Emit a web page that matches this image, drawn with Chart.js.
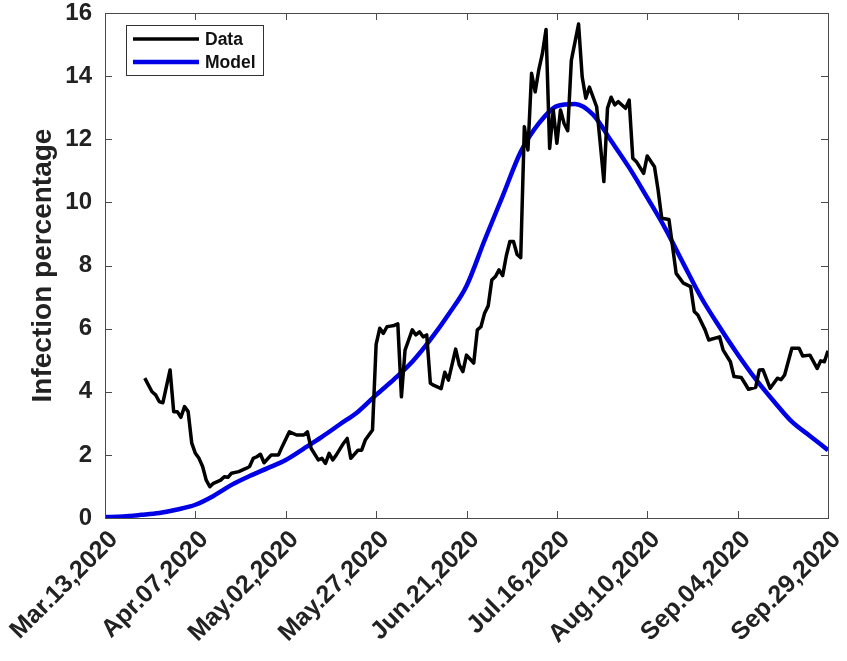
<!DOCTYPE html>
<html>
<head>
<meta charset="utf-8">
<script src="https://cdn.jsdelivr.net/npm/chart.js@4.4.0/dist/chart.umd.min.js"></script>
<style>
  body { margin: 0; background: #fff; }
  canvas { display: block; }
</style>
</head>
<body>
<canvas id="myChart" width="847" height="661"></canvas>
<script>
// x axis: days since Mar 13, 2020
const tickDays = [0, 25, 50, 75, 100, 125, 150, 175, 200]
const tickLabels = ['Mar.13,2020', 'Apr.07,2020', 'May.02,2020', 'May.27,2020', 'Jun.21,2020',
  'Jul.16,2020', 'Aug.10,2020', 'Sep.04,2020', 'Sep.29,2020']

const dataDays = [11, 13, 14, 15, 16, 18, 19, 20, 21, 22, 23, 24, 25, 26, 27, 28, 29, 30, 32, 33,
  34, 35, 37, 39, 40, 41, 42, 43, 44, 46, 48, 49, 51, 53, 55, 56, 57, 59, 60, 61,
  62, 63, 64, 66, 67, 68, 70, 71, 72, 73, 74, 75, 76, 77, 78, 79, 80, 81, 82, 83,
  84, 85, 86, 87, 88, 89, 90, 91, 93, 94, 95, 97, 98, 99, 100, 102, 103, 104, 105, 106,
  107, 108, 109, 110, 111, 112, 113, 114, 115, 116, 117, 118, 119, 120, 121, 122, 123, 124, 125, 126,
  127, 128, 129, 131, 132, 133, 134, 136, 137, 138, 139, 140, 141, 142, 144, 145, 146, 147, 149, 150,
  152, 153, 154, 156, 157, 158, 160, 162, 163, 164, 166, 167, 170, 171, 173, 174, 176, 177, 178, 180,
  181, 182, 184, 186, 187, 188, 190, 192, 193, 195, 197, 198, 199, 200]
const dataValues = [4.43, 4.0, 3.9, 3.69, 3.65, 4.69, 3.37, 3.37, 3.19, 3.53, 3.37, 2.37, 2.05, 1.89, 1.63, 1.2, 0.99, 1.1, 1.2, 1.31,
  1.29, 1.42, 1.47, 1.57, 1.63, 1.89, 1.94, 2.02, 1.75, 2.0, 2.0, 2.26, 2.73, 2.63, 2.63, 2.73, 2.21, 1.84, 1.89, 1.73,
  2.05, 1.84, 2.0, 2.37, 2.52, 1.89, 2.15, 2.15, 2.47, 2.63, 2.79, 5.5, 6.01, 5.85, 6.06, 6.08, 6.1, 6.15, 3.84, 5.32,
  5.64, 5.96, 5.8, 5.9, 5.74, 5.8, 4.27, 4.2, 4.1, 4.62, 4.37, 5.35, 4.85, 4.64, 5.16, 4.91, 5.96, 6.06, 6.49, 6.72,
  7.54, 7.65, 7.86, 7.68, 8.3, 8.76, 8.76, 8.35, 8.25, 12.4, 11.66, 14.09, 13.5, 14.2, 14.72, 15.48, 11.71, 12.93, 11.87, 12.93,
  12.5, 12.27, 14.5, 15.65, 13.98, 13.3, 13.65, 13.03, 11.87, 10.66, 12.98, 13.33, 13.09, 13.19, 12.98, 13.24, 11.4, 11.29, 10.92, 11.47,
  11.13, 10.39, 9.5, 9.46, 8.6, 7.75, 7.44, 7.33, 6.54, 6.43, 5.96, 5.64, 5.74, 5.32, 4.95, 4.48, 4.45, 4.27, 4.08, 4.14,
  4.69, 4.7, 4.11, 4.43, 4.38, 4.53, 5.38, 5.38, 5.13, 5.16, 4.74, 4.98, 4.95, 5.3]

const modelDays = [0, 5, 10, 15, 20, 25, 30, 35, 40, 45, 50, 55, 60, 65, 70, 75, 80, 85, 90, 95,
  100, 105, 110, 115, 120, 125, 130, 135, 140, 145, 150, 155, 160, 165, 170, 175, 180, 185, 190, 195, 200]
const modelValues = [0.03, 0.05, 0.1, 0.16, 0.27, 0.42, 0.7, 1.05, 1.33, 1.58, 1.84, 2.2, 2.57, 2.97, 3.37, 3.9, 4.4, 4.95, 5.65, 6.45,
  7.35, 8.8, 10.2, 11.6, 12.5, 13.05, 13.12, 12.78, 11.95, 11.1, 10.15, 9.17, 8.06, 6.97, 6.05, 5.19, 4.4, 3.7, 3.05, 2.6, 2.15]

const yTicks = [0, 2, 4, 6, 8, 10, 12, 14, 16]

const FONT = '"Liberation Sans", Arial, sans-serif'
const AXIS_COLOR = '#4a4a4a'

// box around the axes, inward ticks on all four sides, legend inside the axes
const framePlugin = {
  id: 'frame',
  afterDraw(chart) {
    const {ctx, chartArea: a, scales} = chart
    ctx.save()
    ctx.strokeStyle = AXIS_COLOR
    ctx.lineWidth = 1
    ctx.strokeRect(a.left + 0.5, a.top + 0.5, a.right - a.left, a.bottom - a.top)
    const len = 7
    ctx.beginPath()
    tickDays.forEach(d => {
      const px = Math.round(scales.x.getPixelForValue(d)) + 0.5
      ctx.moveTo(px, a.bottom); ctx.lineTo(px, a.bottom - len)
      ctx.moveTo(px, a.top); ctx.lineTo(px, a.top + len)
    })
    yTicks.forEach(v => {
      const py = Math.round(scales.y.getPixelForValue(v)) + 0.5
      ctx.moveTo(a.left, py); ctx.lineTo(a.left + len, py)
      ctx.moveTo(a.right, py); ctx.lineTo(a.right - len, py)
    })
    ctx.stroke()

    // legend
    const bx = a.left + 21, by = a.top + 12, bw = 137, bh = 50
    ctx.fillStyle = '#fff'
    ctx.fillRect(bx, by, bw, bh)
    ctx.strokeStyle = '#333'
    ctx.strokeRect(bx + 0.5, by + 0.5, bw, bh)
    ctx.font = 'bold 17.5px ' + FONT
    ctx.textBaseline = 'middle'
    chart.data.datasets.forEach((ds, i) => {
      const ly = by + 14 + i * 23
      ctx.strokeStyle = ds.borderColor
      ctx.lineWidth = ds.borderWidth
      ctx.beginPath()
      ctx.moveTo(bx + 7, ly); ctx.lineTo(bx + 73, ly)
      ctx.stroke()
      ctx.fillStyle = '#111'
      ctx.fillText(ds.label, bx + 79, ly + 1)
    })
    ctx.restore()
  }
}

const ctx = document.getElementById('myChart').getContext('2d')
const chart = new Chart(ctx, {
  type: 'line',
  data: {
    datasets: [{
      label: 'Data',
      data: dataDays.map((d, i) => ({x: d, y: dataValues[i]})),
      borderColor: '#000',
      borderWidth: 3.5,
      pointRadius: 0,
      tension: 0,
      borderJoinStyle: 'round'
    }, {
      label: 'Model',
      data: modelDays.map((d, i) => ({x: d, y: modelValues[i]})),
      borderColor: '#0000e6',
      borderWidth: 4.5,
      pointRadius: 0,
      cubicInterpolationMode: 'monotone'
    }]
  },
  options: {
    responsive: false,
    animation: false,
    devicePixelRatio: 1,
    layout: { padding: { top: 13, right: 19, left: 0, bottom: 0 } },
    plugins: { legend: { display: false }, tooltip: { enabled: false } },
    scales: {
      x: {
        type: 'linear',
        min: 0,
        max: 200,
        afterBuildTicks: scale => { scale.ticks = tickDays.map(v => ({value: v})) },
        afterFit: scale => {
          scale.height = 143
          scale.paddingLeft = 0
          scale.paddingRight = 0
        },
        grid: { drawOnChartArea: false, drawTicks: false },
        border: { display: false },
        ticks: {
          autoSkip: false,
          minRotation: 45,
          maxRotation: 45,
          padding: 7,
          labelOffset: 9,
          color: '#222',
          font: { family: FONT, size: 25, weight: 'bold' },
          callback: v => tickLabels[tickDays.indexOf(v)]
        }
      },
      y: {
        min: 0,
        max: 16,
        afterBuildTicks: scale => { scale.ticks = yTicks.map(v => ({value: v})) },
        afterFit: scale => {
          scale.width = 105
          scale.paddingTop = 0
          scale.paddingBottom = 0
        },
        grid: { drawOnChartArea: false, drawTicks: false },
        border: { display: false },
        ticks: {
          padding: 13,
          color: '#222',
          font: { family: FONT, size: 24, weight: 'bold' }
        },
        title: {
          display: true,
          text: 'Infection percentage',
          color: '#222',
          padding: { top: 26, bottom: 0 },
          font: { family: FONT, size: 28, weight: 'bold' }
        }
      }
    }
  },
  plugins: [framePlugin]
})
</script>
</body>
</html>
